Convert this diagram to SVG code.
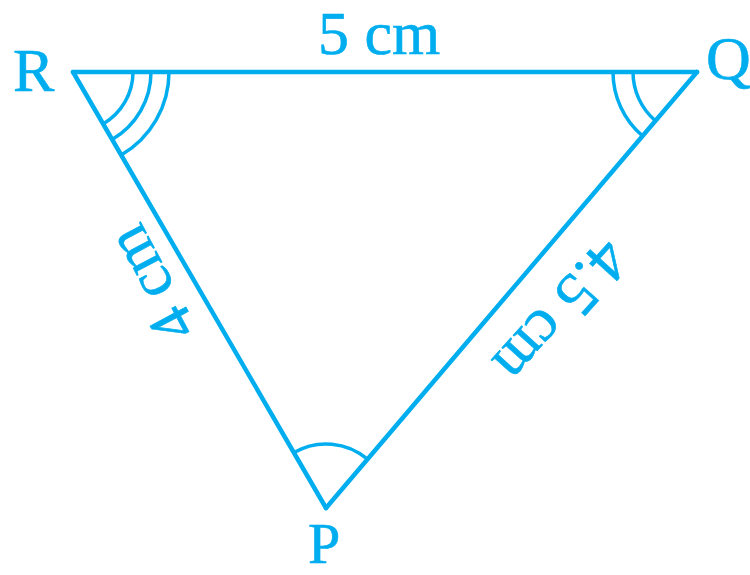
<svg xmlns="http://www.w3.org/2000/svg" width="750" height="575" viewBox="0 0 750 575">
<style>
.side{stroke:#00AEEF;stroke-width:4.5;fill:none;stroke-linecap:round;stroke-linejoin:round}
.arc{stroke:#00AEEF;stroke-width:3.5;fill:none}
.lbl{font-family:"Liberation Serif","Times New Roman",serif;font-size:62px;fill:#00AEEF;stroke:#00AEEF;stroke-width:0.6}
</style>
<rect width="750" height="575" fill="#ffffff"/>
<g id="connectors">
<path id="side-RQ" class="side" d="M73,72 L697,72"/>
<path id="side-RP" class="side" d="M73,72 L326,508"/>
<path id="side-QP" class="side" d="M697,72 L326,508"/>
</g>
<g id="angle-R">
<path class="arc" d="M133,72 A60,60 0 0 1 103.1,123.9"/>
<path class="arc" d="M151,72 A78,78 0 0 1 112.2,139.5"/>
<path class="arc" d="M169,72 A96,96 0 0 1 121.2,155"/>
</g>
<g id="angle-Q">
<path class="arc" d="M633,72 A64,64 0 0 0 655.5,120.8"/>
<path class="arc" d="M613,72 A84,84 0 0 0 642.6,136"/>
</g>
<g id="angle-P">
<path class="arc" d="M293.9,452.6 A64,64 0 0 1 367.5,459.2"/>
</g>
<g id="node-R"><text class="lbl" x="13" y="91">R</text></g>
<g id="node-Q"><text class="lbl" x="706" y="79">Q</text></g>
<g id="node-P"><text class="lbl" x="308" y="563" style="font-size:58px">P</text></g>
<g id="label-RQ"><text class="lbl" x="379" y="54" text-anchor="middle">5 cm</text></g>
<g id="label-RP"><text class="lbl" text-anchor="middle" transform="translate(153,283) rotate(-118)" x="0" y="18">4 cm</text></g>
<g id="label-QP"><text class="lbl" text-anchor="middle" transform="translate(560,310) rotate(132)" x="0" y="18">4.5 cm</text></g>
</svg>
